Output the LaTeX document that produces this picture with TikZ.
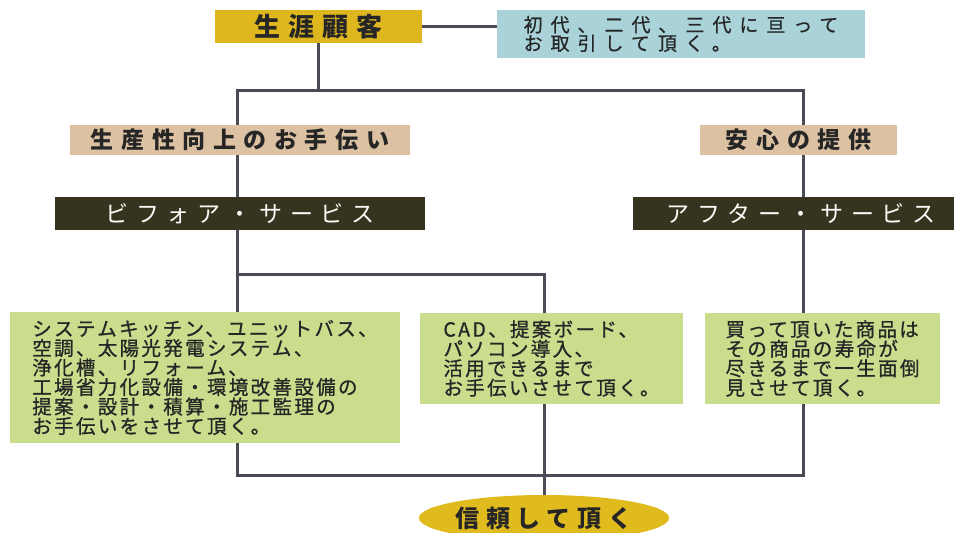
\documentclass[tikz,border=0pt]{standalone}
\usepackage{fontspec}
\setmainfont{Noto Sans CJK JP}
\usepackage{tikz}
\usetikzlibrary{shapes,shapes.geometric,backgrounds}

\definecolor{colGold}{HTML}{DEB71F}
\definecolor{colSky}{HTML}{A9D3D9}
\definecolor{colTan}{HTML}{DCC1A2}
\definecolor{colDark}{HTML}{36331F}
\definecolor{colLeaf}{HTML}{C9DD8D}
\definecolor{colLine}{HTML}{4A4B57}
\definecolor{colInk}{HTML}{262626}

\begin{document}
\begin{tikzpicture}[x=1pt,y=-1pt]
		\useasboundingbox (0,0) rectangle (954,533);
		\begin{scope}
			[
				styleBox/.style={inner sep=0pt, text=colInk},
				styleHead/.style={styleBox, fill=colGold,
					minimum width=207pt, minimum height=33pt,
					font=\bfseries\fontsize{26}{28}\selectfont\addfontfeature{LetterSpace=30}},
				styleNote/.style={styleBox, fill=colSky, align=left,
					minimum width=368pt, minimum height=48pt,
					font=\fontsize{19}{18.5}\selectfont\addfontfeature{LetterSpace=42,FakeBold=0.6}},
				styleTag/.style={styleBox, fill=colTan, minimum height=30pt,
					font=\bfseries\fontsize{23}{25}\selectfont\addfontfeature{LetterSpace=33}},
				styleService/.style={styleBox, fill=colDark, text=white!94!colTan,
					minimum height=33pt,
					font=\fontsize{23}{25}\selectfont\addfontfeature{LetterSpace=34}},
				styleDetail/.style={styleBox, fill=colLeaf, align=left,
					font=\fontsize{19.5}{19.5}\selectfont\addfontfeature{LetterSpace=12,FakeBold=0.9}},
				styleGoal/.style={styleBox, ellipse, fill=colGold!95!yellow,
					minimum width=245pt, minimum height=46pt,
					font=\bfseries\fontsize{24}{26}\selectfont\addfontfeature{LetterSpace=28}},
			]
			\node(lifetime)[styleHead] at (318.5,26.5) {生涯顧客};
			\node(generations)[styleNote] at (681,34) {初代、二代、三代に亘って\\お取引して頂く。};

			\node(productivity)[styleTag, minimum width=340pt] at (240,140) {生産性向上のお手伝い};
			\node(relief)[styleTag, minimum width=197pt] at (798.5,140) {安心の提供};

			\node(before)[styleService, minimum width=370pt] at (240,213.5) {ビフォア・サービス};
			\node(after)[styleService, minimum width=336pt] at (801,213.5) {アフター・サービス};

			\node(equipment)[styleDetail, minimum width=390pt, minimum height=131pt] at (205,377.5)
				{システムキッチン、ユニットバス、\\空調、太陽光発電システム、\\浄化槽、リフォーム、\\工場省力化設備・環境改善設備の\\提案・設計・積算・施工監理の\\お手伝いをさせて頂く。};
			\node(office)[styleDetail, minimum width=263pt, minimum height=91pt] at (551.5,358.5)
				{CAD、提案ボード、\\パソコン導入、\\活用できるまで\\お手伝いさせて頂く。};
			\node(care)[styleDetail, minimum width=235pt, minimum height=91pt] at (822.5,358.5)
				{買って頂いた商品は\\その商品の寿命が\\尽きるまで一生面倒\\見させて頂く。};

			\node(trust)[styleGoal] at (544,518) {信頼して頂く};

			\coordinate(topLeft) at (237,90);
			\coordinate(topRight) at (803,90);
			\coordinate(bottomRight) at (803,475);
			\coordinate(split) at (237,274);
		\end{scope}

		\begin{scope}
			[on background layer]
			\tikzset{styleLink/.style={line width=3pt, draw=colLine}}
			\draw[styleLink] (lifetime.east) -- (lifetime.east -| generations.west);
			\draw[styleLink] (lifetime.south) -- (lifetime.south |- topLeft);
			\draw[styleLink] (topLeft) rectangle (bottomRight);
			\draw[styleLink] (split) -| (trust.north);
		\end{scope}
	\end{tikzpicture}
\end{document}
